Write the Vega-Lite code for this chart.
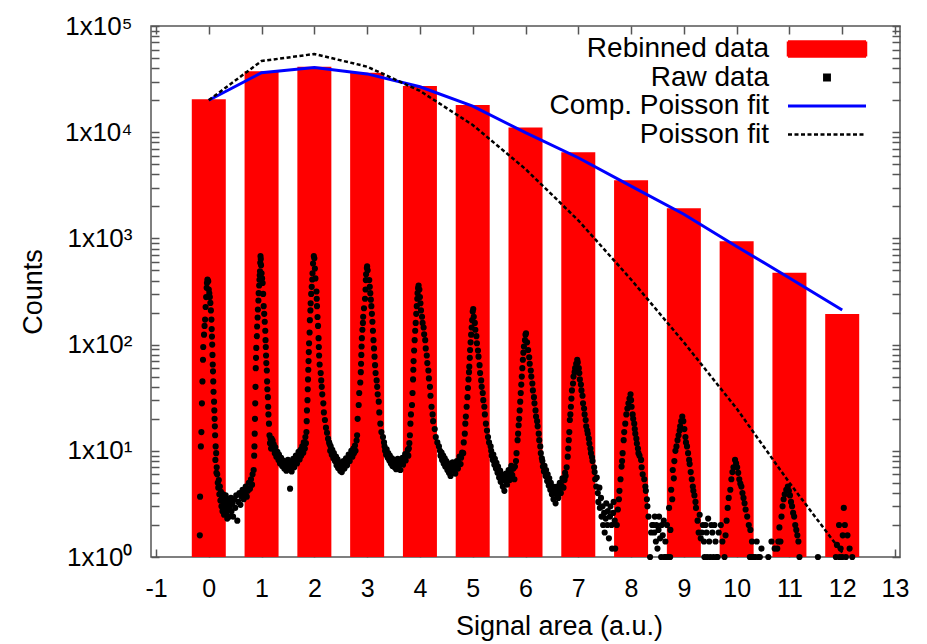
{
  "$schema": "https://vega.github.io/schema/vega-lite/v6.json",
  "width": 749,
  "height": 531,
  "autosize": {"type": "none"},
  "padding": {"left": 151, "top": 26, "right": 27, "bottom": 87},
  "background": "white",
  "config": {
    "view": {"stroke": "#555555", "strokeWidth": 1.5},
    "font": "Liberation Sans",
    "axis": {"domain": false, "grid": false, "tickColor": "#555555", "tickWidth": 1.5, "labelColor": "#000000", "titleColor": "#000000", "labelFont": "Liberation Sans", "titleFont": "Liberation Sans", "titleFontWeight": "normal"}
  },
  "datasets": {
    "bars": [{"x":0,"y":20400},{"x":1,"y":37400},{"x":2,"y":41400},{"x":3,"y":36300},{"x":4,"y":27200},{"x":5,"y":18000},{"x":6,"y":11100},{"x":7,"y":6470},{"x":8,"y":3520},{"x":9,"y":1920},{"x":10,"y":940},{"x":11,"y":475},{"x":12,"y":194}],
    "comp": [{"x":0,"y":20000},{"x":1,"y":36300},{"x":2,"y":40600},{"x":3,"y":35400},{"x":4,"y":26800},{"x":5,"y":17600},{"x":6,"y":9900},{"x":7,"y":5750},{"x":8,"y":3110},{"x":9,"y":1690},{"x":10,"y":840},{"x":11,"y":424},{"x":12,"y":212}],
    "pois": [{"x":0,"y":20000},{"x":1,"y":46800},{"x":2,"y":54500},{"x":3,"y":41400},{"x":4,"y":24500},{"x":5,"y":11700},{"x":6,"y":4500},{"x":7,"y":1480},{"x":8,"y":410},{"x":9,"y":105},{"x":10,"y":25},{"x":11,"y":5},{"x":12,"y":1.1}],
    "raw": [
{"x":-0.17,"y":1.6},{"x":-0.165,"y":3.7},{"x":-0.15,"y":11},{"x":-0.14,"y":15},{"x":-0.13,"y":28},{"x":-0.12,"y":45},{"x":-0.11,"y":72},{"x":-0.105,"y":95},{"x":-0.09,"y":124},{"x":-0.08,"y":150},{"x":-0.07,"y":172},{"x":-0.06,"y":226},{"x":-0.05,"y":280},{"x":-0.04,"y":343},{"x":-0.035,"y":380},{"x":-0.025,"y":410},{"x":-0.02,"y":400},{"x":-0.01,"y":395},{"x":0,"y":330},{"x":0.01,"y":304},{"x":0.02,"y":280},{"x":0.03,"y":247},{"x":0.04,"y":210},{"x":0.05,"y":172},{"x":0.055,"y":140},{"x":0.06,"y":119},{"x":0.065,"y":100},{"x":0.07,"y":80},{"x":0.075,"y":65},{"x":0.08,"y":56},{"x":0.085,"y":45},{"x":0.09,"y":36},{"x":0.1,"y":29},{"x":0.105,"y":24},{"x":0.11,"y":20},{"x":0.115,"y":17},{"x":0.12,"y":14},{"x":0.13,"y":11},{"x":0.125,"y":8.2},{"x":0.14,"y":9.5},{"x":0.145,"y":6.2},{"x":0.15,"y":7},
{"x":0.16,"y":6.0},{"x":0.17,"y":5.0},{"x":0.18,"y":4.5},{"x":0.19,"y":5.3},{"x":0.2,"y":3.9},{"x":0.21,"y":4.6},{"x":0.22,"y":3.4},{"x":0.23,"y":4.1},{"x":0.24,"y":3.0},{"x":0.25,"y":3.6},{"x":0.26,"y":2.7},{"x":0.27,"y":3.9},{"x":0.28,"y":3.2},{"x":0.29,"y":2.5},{"x":0.3,"y":3.4},{"x":0.31,"y":2.9},{"x":0.32,"y":3.8},{"x":0.33,"y":2.6},{"x":0.34,"y":3.1},{"x":0.35,"y":2.3},{"x":0.36,"y":3.5},{"x":0.37,"y":2.8},{"x":0.38,"y":3.3},{"x":0.39,"y":2.4},{"x":0.4,"y":3.0},{"x":0.42,"y":3.6},{"x":0.43,"y":2.7},{"x":0.45,"y":3.2},{"x":0.46,"y":2.4},{"x":0.48,"y":3.5},{"x":0.5,"y":2.9},{"x":0.52,"y":3.8},{"x":0.54,"y":2.2},{"x":0.56,"y":3.3},{"x":0.58,"y":4.0},{"x":0.6,"y":3.1},{"x":0.62,"y":3.7},{"x":0.64,"y":4.3},{"x":0.66,"y":3.5},{"x":0.68,"y":4.0},{"x":0.7,"y":4.6},{"x":0.72,"y":3.7},{"x":0.74,"y":4.2},{"x":0.76,"y":5.0},{"x":0.78,"y":4.4},{"x":0.8,"y":5.4},{"x":0.82,"y":4.8},{"x":0.83,"y":6.0},
{"x":0.85,"y":6.6},{"x":0.86,"y":9},{"x":0.865,"y":11},{"x":0.87,"y":14.5},{"x":0.875,"y":20},{"x":0.88,"y":28},{"x":0.885,"y":40},{"x":0.89,"y":60},{"x":0.895,"y":75},{"x":0.9,"y":93},{"x":0.91,"y":120},{"x":0.915,"y":148},{"x":0.925,"y":180},{"x":0.93,"y":214},{"x":0.94,"y":260},{"x":0.945,"y":305},{"x":0.955,"y":360},{"x":0.96,"y":408},{"x":0.965,"y":450},{"x":0.97,"y":490},{"x":0.975,"y":590},{"x":0.98,"y":680},{"x":0.985,"y":640},
{"x":0.99,"y":560},{"x":1.0,"y":470},{"x":1.01,"y":420},{"x":1.02,"y":380},{"x":1.03,"y":300},{"x":1.04,"y":230},{"x":1.05,"y":195},{"x":1.06,"y":164},{"x":1.07,"y":135},{"x":1.075,"y":110},{"x":1.08,"y":95},{"x":1.085,"y":79},{"x":1.09,"y":67},{"x":1.1,"y":57},{"x":1.105,"y":45},{"x":1.11,"y":38},{"x":1.12,"y":32},{"x":1.125,"y":26},{"x":1.13,"y":22},{"x":1.14,"y":18},{"x":1.15,"y":14},{"x":1.16,"y":11.8},{"x":1.17,"y":13},{"x":1.18,"y":10.5},
{"x":1.19,"y":13},{"x":1.2,"y":11},{"x":1.21,"y":12.5},{"x":1.22,"y":10.5},{"x":1.23,"y":11.5},{"x":1.25,"y":9.5},{"x":1.26,"y":10.8},{"x":1.28,"y":8.8},{"x":1.3,"y":9.8},{"x":1.32,"y":8.2},{"x":1.33,"y":9.2},{"x":1.35,"y":7.6},{"x":1.37,"y":8.6},{"x":1.39,"y":7.2},{"x":1.41,"y":8.1},{"x":1.43,"y":6.8},{"x":1.45,"y":7.8},{"x":1.47,"y":6.5},{"x":1.49,"y":7.4},{"x":1.5,"y":8.2},{"x":1.52,"y":6.9},{"x":1.54,"y":4.4},{"x":1.55,"y":7.7},{"x":1.57,"y":6.4},{"x":1.59,"y":7.3},{"x":1.6,"y":8.4},{"x":1.62,"y":7.0},{"x":1.64,"y":8.0},{"x":1.65,"y":9.0},{"x":1.67,"y":7.6},{"x":1.69,"y":8.7},{"x":1.7,"y":9.8},{"x":1.72,"y":8.3},{"x":1.74,"y":10.2},{"x":1.75,"y":9.0},{"x":1.77,"y":11.0},{"x":1.79,"y":9.6},{"x":1.8,"y":12.0},{"x":1.82,"y":10.5},{"x":1.83,"y":13.5},
{"x":1.84,"y":11.8},{"x":1.85,"y":15},{"x":1.855,"y":19},{"x":1.86,"y":24},{"x":1.87,"y":30},{"x":1.875,"y":38},{"x":1.88,"y":47},{"x":1.885,"y":58},{"x":1.89,"y":70},{"x":1.895,"y":85},{"x":1.9,"y":103},{"x":1.91,"y":130},{"x":1.915,"y":170},{"x":1.925,"y":210},{"x":1.93,"y":245},{"x":1.94,"y":300},{"x":1.95,"y":350},{"x":1.96,"y":410},{"x":1.965,"y":470},{"x":1.975,"y":580},{"x":1.99,"y":680},{"x":2.0,"y":650},
{"x":2.01,"y":520},{"x":2.02,"y":420},{"x":2.04,"y":316},{"x":2.045,"y":270},{"x":2.05,"y":230},{"x":2.06,"y":182},{"x":2.07,"y":150},{"x":2.08,"y":115},{"x":2.085,"y":95},{"x":2.09,"y":79},{"x":2.1,"y":65},{"x":2.12,"y":54},{"x":2.13,"y":46},{"x":2.14,"y":40},{"x":2.15,"y":34},{"x":2.17,"y":28},{"x":2.18,"y":23},{"x":2.2,"y":19.5},{"x":2.22,"y":16.5},{"x":2.24,"y":14.8},{"x":2.26,"y":13},{"x":2.28,"y":12},
{"x":2.29,"y":11.5},{"x":2.3,"y":10},{"x":2.31,"y":11},{"x":2.33,"y":9.2},{"x":2.34,"y":10.2},{"x":2.36,"y":8.5},{"x":2.37,"y":9.5},{"x":2.39,"y":8},{"x":2.41,"y":8.8},{"x":2.42,"y":7.3},{"x":2.44,"y":8.3},{"x":2.45,"y":6.9},{"x":2.47,"y":7.8},{"x":2.49,"y":6.5},{"x":2.5,"y":7.5},{"x":2.52,"y":6.3},{"x":2.54,"y":7.2},{"x":2.55,"y":8.0},{"x":2.57,"y":6.8},{"x":2.59,"y":7.6},{"x":2.6,"y":8.5},{"x":2.62,"y":7.3},{"x":2.64,"y":8.2},{"x":2.65,"y":9.2},{"x":2.67,"y":8.0},{"x":2.69,"y":9.0},{"x":2.7,"y":10},{"x":2.72,"y":8.8},{"x":2.74,"y":10.5},{"x":2.75,"y":9.5},{"x":2.77,"y":11.2},{"x":2.78,"y":10},{"x":2.8,"y":12.5},
{"x":2.81,"y":14},{"x":2.82,"y":20},{"x":2.84,"y":27},{"x":2.85,"y":35},{"x":2.87,"y":44},{"x":2.88,"y":55},{"x":2.885,"y":66},{"x":2.89,"y":80},{"x":2.895,"y":96},{"x":2.9,"y":115},{"x":2.91,"y":138},{"x":2.92,"y":160},{"x":2.925,"y":183},{"x":2.94,"y":220},{"x":2.96,"y":270},{"x":2.97,"y":330},{"x":2.975,"y":405},{"x":2.98,"y":460},{"x":2.995,"y":525},{"x":3.0,"y":545},{"x":3.01,"y":500},
{"x":3.04,"y":405},{"x":3.05,"y":350},{"x":3.06,"y":305},{"x":3.07,"y":265},{"x":3.08,"y":230},{"x":3.09,"y":195},{"x":3.1,"y":164},{"x":3.11,"y":135},{"x":3.12,"y":110},{"x":3.13,"y":92},{"x":3.14,"y":77},{"x":3.15,"y":64},{"x":3.16,"y":54},{"x":3.18,"y":46},{"x":3.19,"y":40},{"x":3.2,"y":34},{"x":3.22,"y":29},{"x":3.23,"y":23},{"x":3.25,"y":18},{"x":3.27,"y":15},{"x":3.3,"y":13.5},{"x":3.32,"y":12},
{"x":3.33,"y":11},{"x":3.34,"y":10},{"x":3.36,"y":9.2},{"x":3.37,"y":10.3},{"x":3.39,"y":8.6},{"x":3.4,"y":9.5},{"x":3.42,"y":8.1},{"x":3.43,"y":9},{"x":3.45,"y":7.6},{"x":3.47,"y":8.5},{"x":3.48,"y":7.2},{"x":3.5,"y":8.2},{"x":3.52,"y":7.0},{"x":3.53,"y":7.9},{"x":3.55,"y":6.7},{"x":3.57,"y":7.6},{"x":3.58,"y":8.4},{"x":3.6,"y":7.1},{"x":3.62,"y":8.0},{"x":3.63,"y":6.6},{"x":3.65,"y":7.7},{"x":3.67,"y":8.6},{"x":3.68,"y":7.4},{"x":3.7,"y":8.4},{"x":3.72,"y":9.3},{"x":3.73,"y":8.1},{"x":3.75,"y":9.2},{"x":3.77,"y":10.2},{"x":3.78,"y":9.0},{"x":3.79,"y":10.5},
{"x":3.8,"y":11.8},{"x":3.81,"y":14},{"x":3.82,"y":18},{"x":3.83,"y":22},{"x":3.85,"y":27},{"x":3.86,"y":35},{"x":3.87,"y":47},{"x":3.875,"y":58},{"x":3.88,"y":70},{"x":3.89,"y":88},{"x":3.9,"y":110},{"x":3.91,"y":135},{"x":3.92,"y":160},{"x":3.93,"y":195},{"x":3.94,"y":230},{"x":3.95,"y":270},{"x":3.955,"y":305},{"x":3.965,"y":340},{"x":3.975,"y":360},{"x":3.99,"y":330},
{"x":4.0,"y":280},{"x":4.01,"y":245},{"x":4.02,"y":210},{"x":4.04,"y":183},{"x":4.05,"y":160},{"x":4.07,"y":145},{"x":4.08,"y":125},{"x":4.1,"y":110},{"x":4.11,"y":92},{"x":4.13,"y":79},{"x":4.14,"y":67},{"x":4.16,"y":57},{"x":4.17,"y":48},{"x":4.19,"y":40},{"x":4.2,"y":33},{"x":4.22,"y":26},{"x":4.24,"y":22},{"x":4.25,"y":19},{"x":4.28,"y":16},{"x":4.3,"y":13.5},{"x":4.33,"y":12},{"x":4.36,"y":11},
{"x":4.38,"y":10},{"x":4.39,"y":9},{"x":4.41,"y":9.6},{"x":4.42,"y":8.2},{"x":4.44,"y":9},{"x":4.45,"y":7.6},{"x":4.47,"y":8.5},{"x":4.48,"y":7.1},{"x":4.5,"y":8},{"x":4.52,"y":6.6},{"x":4.53,"y":7.6},{"x":4.55,"y":6.2},{"x":4.57,"y":7.2},{"x":4.58,"y":5.8},{"x":4.6,"y":6.9},{"x":4.62,"y":7.8},{"x":4.63,"y":6.5},{"x":4.65,"y":7.4},{"x":4.67,"y":6.1},{"x":4.68,"y":7.0},{"x":4.7,"y":8.0},{"x":4.72,"y":6.8},{"x":4.73,"y":7.8},{"x":4.75,"y":8.8},{"x":4.77,"y":7.5},{"x":4.78,"y":8.6},{"x":4.8,"y":9.6},
{"x":4.82,"y":9.5},{"x":4.83,"y":12},{"x":4.85,"y":14.5},{"x":4.86,"y":18},{"x":4.87,"y":21},{"x":4.885,"y":26},{"x":4.9,"y":32},{"x":4.91,"y":39},{"x":4.92,"y":47},{"x":4.93,"y":55},{"x":4.935,"y":62},{"x":4.945,"y":75},{"x":4.95,"y":89},{"x":4.96,"y":105},{"x":4.97,"y":124},{"x":4.98,"y":145},{"x":4.99,"y":170},{"x":5.0,"y":205},{"x":5.01,"y":216},
{"x":5.02,"y":183},{"x":5.04,"y":160},{"x":5.05,"y":138},{"x":5.07,"y":120},{"x":5.08,"y":103},{"x":5.1,"y":88},{"x":5.11,"y":77},{"x":5.13,"y":64},{"x":5.14,"y":54},{"x":5.16,"y":46},{"x":5.17,"y":40},{"x":5.19,"y":35},{"x":5.2,"y":30},{"x":5.22,"y":26},{"x":5.23,"y":22},{"x":5.25,"y":18},{"x":5.27,"y":15.5},{"x":5.29,"y":13.5},{"x":5.31,"y":12},{"x":5.34,"y":11},
{"x":5.35,"y":10},{"x":5.36,"y":9},{"x":5.38,"y":8.2},{"x":5.39,"y":9.2},{"x":5.41,"y":7.4},{"x":5.42,"y":8.4},{"x":5.44,"y":6.8},{"x":5.45,"y":7.7},{"x":5.47,"y":6.2},{"x":5.48,"y":7.1},{"x":5.5,"y":5.6},{"x":5.52,"y":6.5},{"x":5.53,"y":5.1},{"x":5.55,"y":6.0},{"x":5.57,"y":4.6},{"x":5.58,"y":5.6},{"x":5.6,"y":4.2},{"x":5.62,"y":5.2},{"x":5.63,"y":6.1},{"x":5.65,"y":4.8},{"x":5.67,"y":5.7},{"x":5.68,"y":6.6},{"x":5.7,"y":5.3},{"x":5.72,"y":6.2},{"x":5.73,"y":7.2},{"x":5.75,"y":5.9},{"x":5.77,"y":6.8},
{"x":5.79,"y":5.4},{"x":5.8,"y":7.1},{"x":5.82,"y":8},{"x":5.83,"y":9.5},{"x":5.85,"y":12.6},{"x":5.86,"y":14.5},{"x":5.87,"y":17.4},{"x":5.88,"y":20},{"x":5.89,"y":24},{"x":5.9,"y":29},{"x":5.91,"y":35},{"x":5.92,"y":42},{"x":5.93,"y":50},{"x":5.94,"y":60},{"x":5.95,"y":72},{"x":5.96,"y":84},{"x":5.97,"y":96},{"x":5.99,"y":110},{"x":6.0,"y":124},{"x":6.01,"y":128},
{"x":6.03,"y":105},{"x":6.05,"y":89},{"x":6.07,"y":76},{"x":6.08,"y":66},{"x":6.1,"y":57},{"x":6.11,"y":50},{"x":6.13,"y":43},{"x":6.14,"y":37},{"x":6.16,"y":32},{"x":6.17,"y":28},{"x":6.19,"y":24},{"x":6.2,"y":21},{"x":6.22,"y":19},{"x":6.23,"y":17},{"x":6.25,"y":14.5},{"x":6.26,"y":12.6},{"x":6.28,"y":11},{"x":6.29,"y":9.5},{"x":6.31,"y":8.5},
{"x":6.32,"y":8},{"x":6.33,"y":7.1},{"x":6.35,"y":6.4},{"x":6.36,"y":7.2},{"x":6.38,"y":5.8},{"x":6.39,"y":6.6},{"x":6.41,"y":5.2},{"x":6.42,"y":6.0},{"x":6.44,"y":4.7},{"x":6.45,"y":5.5},{"x":6.47,"y":4.3},{"x":6.48,"y":5.0},{"x":6.5,"y":3.9},{"x":6.52,"y":4.6},{"x":6.53,"y":3.5},{"x":6.55,"y":4.2},{"x":6.57,"y":3.2},{"x":6.58,"y":3.9},{"x":6.6,"y":4.6},{"x":6.62,"y":3.6},{"x":6.63,"y":4.3},{"x":6.65,"y":5.0},{"x":6.67,"y":4.0},{"x":6.68,"y":4.7},{"x":6.7,"y":5.5},{"x":6.72,"y":4.5},{"x":6.74,"y":5.3},{"x":6.75,"y":6.2},
{"x":6.76,"y":5.8},{"x":6.78,"y":7},{"x":6.8,"y":8.8},{"x":6.81,"y":10.5},{"x":6.82,"y":12.6},{"x":6.83,"y":15},{"x":6.84,"y":19.5},{"x":6.85,"y":22},{"x":6.86,"y":26},{"x":6.87,"y":31},{"x":6.88,"y":37},{"x":6.9,"y":43},{"x":6.91,"y":50},{"x":6.93,"y":55},{"x":6.94,"y":60},{"x":6.96,"y":66},{"x":6.98,"y":72},{"x":6.99,"y":68},
{"x":7.01,"y":60},{"x":7.02,"y":54},{"x":7.03,"y":47},{"x":7.05,"y":42},{"x":7.06,"y":37},{"x":7.08,"y":33},{"x":7.09,"y":28},{"x":7.11,"y":25},{"x":7.12,"y":22},{"x":7.14,"y":19.5},{"x":7.15,"y":17},{"x":7.17,"y":15.5},{"x":7.18,"y":14.5},{"x":7.2,"y":13},{"x":7.21,"y":11.7},{"x":7.23,"y":10.5},{"x":7.24,"y":9.5},{"x":7.26,"y":8.7},{"x":7.27,"y":8},{"x":7.3,"y":7},
{"x":7.31,"y":6.3},{"x":7.32,"y":5.4},{"x":7.34,"y":4.6},{"x":7.35,"y":5.6},{"x":7.37,"y":4.0},{"x":7.38,"y":3.3},{"x":7.4,"y":4.5},{"x":7.41,"y":2.9},{"x":7.43,"y":3.6},{"x":7.44,"y":2.4},{"x":7.46,"y":3.0},{"x":7.47,"y":2},{"x":7.49,"y":2.6},{"x":7.5,"y":1.7},{"x":7.52,"y":2.3},{"x":7.53,"y":3.2},{"x":7.55,"y":2.0},{"x":7.56,"y":2.7},{"x":7.58,"y":1.5},{"x":7.6,"y":2.4},{"x":7.61,"y":3.0},{"x":7.63,"y":2.0},{"x":7.64,"y":1.2},{"x":7.66,"y":2.6},{"x":7.67,"y":3.3},{"x":7.69,"y":2.2},
{"x":7.7,"y":1.2},{"x":7.73,"y":2},{"x":7.75,"y":2.8},{"x":7.77,"y":3.5},{"x":7.78,"y":4.2},{"x":7.8,"y":5.4},{"x":7.82,"y":7.1},{"x":7.83,"y":8},{"x":7.84,"y":9.5},{"x":7.86,"y":12.6},{"x":7.87,"y":15},{"x":7.89,"y":18},{"x":7.91,"y":22},{"x":7.93,"y":25},{"x":7.95,"y":28},{"x":7.97,"y":31},{"x":7.99,"y":34},
{"x":8.0,"y":30},{"x":8.01,"y":26},{"x":8.03,"y":22},{"x":8.04,"y":20},{"x":8.06,"y":18},{"x":8.07,"y":16},{"x":8.08,"y":14.5},{"x":8.1,"y":13},{"x":8.11,"y":11.7},{"x":8.13,"y":10.5},{"x":8.14,"y":9.5},{"x":8.16,"y":9},{"x":8.19,"y":8.2},{"x":8.2,"y":7},{"x":8.22,"y":6},{"x":8.25,"y":5.4},{"x":8.27,"y":4.6},{"x":8.28,"y":4.2},{"x":8.3,"y":3.5},{"x":8.31,"y":3},{"x":8.33,"y":2.4},{"x":8.36,"y":1},{"x":8.38,"y":1.7},{"x":8.4,"y":2},
{"x":8.42,"y":2},{"x":8.44,"y":1.7},{"x":8.45,"y":2.4},{"x":8.47,"y":1.4},{"x":8.48,"y":2},{"x":8.5,"y":1.2},{"x":8.52,"y":1.8},{"x":8.53,"y":2.4},{"x":8.55,"y":1.5},{"x":8.57,"y":1},{"x":8.58,"y":2},{"x":8.6,"y":1.6},{"x":8.62,"y":2.2},{"x":8.63,"y":1},{"x":8.65,"y":1.4},{"x":8.66,"y":1},{"x":8.68,"y":2},{"x":8.7,"y":1},{"x":8.74,"y":1},
{"x":8.72,"y":2.9},{"x":8.745,"y":1.8},{"x":8.76,"y":4.3},{"x":8.78,"y":3.5},{"x":8.79,"y":6.6},{"x":8.81,"y":5.5},{"x":8.82,"y":8},{"x":8.84,"y":10},{"x":8.86,"y":11},{"x":8.88,"y":12.6},{"x":8.9,"y":14},{"x":8.92,"y":15.5},{"x":8.93,"y":17},{"x":8.95,"y":19},{"x":8.97,"y":21},{"x":8.99,"y":19},
{"x":9.01,"y":16},{"x":9.03,"y":13.5},{"x":9.04,"y":12},{"x":9.06,"y":11},{"x":9.08,"y":9.5},{"x":9.1,"y":8.2},{"x":9.11,"y":7.5},{"x":9.13,"y":6.3},{"x":9.15,"y":5.4},{"x":9.17,"y":4.6},{"x":9.18,"y":4.2},{"x":9.2,"y":3.8},{"x":9.22,"y":3.3},{"x":9.23,"y":2.9},{"x":9.26,"y":2.2},{"x":9.28,"y":1.7},{"x":9.3,"y":2.5},{"x":9.32,"y":1.5},
{"x":9.34,"y":1.7},{"x":9.36,"y":2},{"x":9.38,"y":1.4},{"x":9.39,"y":1},{"x":9.41,"y":2},{"x":9.43,"y":1.7},{"x":9.44,"y":1},{"x":9.46,"y":2.3},{"x":9.48,"y":1.4},{"x":9.5,"y":1},{"x":9.52,"y":2},{"x":9.54,"y":1.7},{"x":9.56,"y":1},{"x":9.58,"y":2},{"x":9.6,"y":1.4},{"x":9.62,"y":1},{"x":9.64,"y":1},{"x":9.66,"y":1.7},{"x":9.7,"y":2},{"x":9.73,"y":1.4},
{"x":9.77,"y":1},{"x":9.79,"y":1.6},{"x":9.81,"y":2.2},{"x":9.83,"y":2.9},{"x":9.85,"y":3.6},{"x":9.88,"y":4.3},{"x":9.9,"y":5.4},{"x":9.92,"y":6.3},{"x":9.94,"y":7},{"x":9.97,"y":8.2},{"x":9.99,"y":7.6},{"x":10.01,"y":7},{"x":10.03,"y":6.2},{"x":10.05,"y":5.4},{"x":10.07,"y":4.9},{"x":10.09,"y":4.6},{"x":10.11,"y":4},{"x":10.13,"y":3.6},{"x":10.15,"y":3.2},{"x":10.17,"y":2.8},{"x":10.2,"y":2.4},{"x":10.23,"y":2},{"x":10.26,"y":1.8},{"x":10.29,"y":1.4},{"x":10.25,"y":1},{"x":10.28,"y":1},{"x":10.32,"y":1},{"x":10.35,"y":1},{"x":10.44,"y":1},{"x":10.6,"y":1},
{"x":10.38,"y":1.4},{"x":10.41,"y":1},{"x":10.47,"y":1.2},{"x":10.66,"y":1.4},{"x":10.72,"y":1.2},
{"x":10.77,"y":1.2},{"x":10.79,"y":1.4},{"x":10.81,"y":1.9},{"x":10.83,"y":1.4},{"x":10.85,"y":2.4},{"x":10.87,"y":3},{"x":10.89,"y":3.5},{"x":10.91,"y":3.9},{"x":10.94,"y":4.3},{"x":10.97,"y":4.6},{"x":10.99,"y":4.2},{"x":11.01,"y":3.8},{"x":11.03,"y":3.3},{"x":11.05,"y":3},{"x":11.07,"y":2.6},{"x":11.09,"y":2.4},{"x":11.11,"y":2},{"x":11.13,"y":1.8},{"x":11.15,"y":1.6},{"x":11.17,"y":1.4},{"x":11.19,"y":1},{"x":11.54,"y":1},
{"x":11.88,"y":1},{"x":11.9,"y":1.3},{"x":11.94,"y":2},{"x":11.95,"y":1},{"x":11.97,"y":1.2},{"x":12.0,"y":1},{"x":12.01,"y":1.6},{"x":12.03,"y":2.9},{"x":12.05,"y":2},{"x":12.07,"y":1},{"x":12.1,"y":1.6},{"x":12.14,"y":1.2},{"x":12.19,"y":1}
    ]
  },
  "resolve": {"axis": {"x": "independent", "y": "independent"}},
  "layer": [
    {
      "data": {"name": "bars"},
      "mark": {"type": "bar", "size": 34, "fill": "#ff0000"},
      "encoding": {
        "x": {"field": "x", "type": "quantitative", "scale": {"domain": [-1, 13], "nice": false, "zero": false},
          "axis": {"orient": "bottom", "values": [-1,0,1,2,3,4,5,6,7,8,9,10,11,12,13], "labelExpr": "'' + datum.value", "tickSize": -8, "labelPadding": 27, "labelFontSize": 25, "labelFlush": false, "title": "Signal area (a.u.)", "titleFontSize": 27, "titlePadding": 12, "titleX": 408, "titleAlign": "center"}},
        "y": {"field": "y", "type": "quantitative", "scale": {"type": "log", "domain": [1, 100000], "nice": false},
          "axis": {"orient": "left", "values": [1,2,3,4,5,6,7,8,9,10,20,30,40,50,60,70,80,90,100,200,300,400,500,600,700,800,900,1000,2000,3000,4000,5000,6000,7000,8000,9000,10000,20000,30000,40000,50000,60000,70000,80000,90000,100000],
            "labelExpr": "abs(log(datum.value)/LN10 - round(log(datum.value)/LN10)) < 0.001 ? '1x10' + ['⁰','¹','²','³','⁴','⁵'][round(log(datum.value)/LN10)] : ''",
            "tickSize": -8, "labelPadding": 27, "labelFontSize": 26, "labelFlush": false, "labelOverlap": false,
            "title": "Counts", "titleFontSize": 27, "titlePadding": 17,
            "encode": {"ticks": {"update": {"x2": {"signal": "abs(log(datum.value)/LN10 - round(log(datum.value)/LN10)) < 0.001 ? 8 : 5"}}}}}},
        "y2": {"datum": 1},
        "color": {"datum": "Rebinned data", "type": "nominal",
          "scale": {"domain": ["Rebinned data", "Raw data", "Comp. Poisson fit", "Poisson fit"], "range": ["#ff0000", "#000000", "#0000ff", "#000000"]},
          "legend": {"orient": "none", "legendX": 662, "legendY": 9, "title": null, "padding": 0, "symbolSize": 400, "labelFont": "Liberation Sans", "labelFontSize": 28, "labelColor": "#000000", "labelAlign": "right", "labelOffset": -72, "labelLimit": 400, "rowPadding": 0.5,
            "encode": {"symbols": {"update": {
              "shape": {"signal": "datum.value === 'Rebinned data' ? 'M-3.9,-0.75H3.9V0.75H-3.9Z' : datum.value === 'Raw data' ? 'M-0.27,-0.27H0.27V0.27H-0.27Z' : 'M-3.9,0H3.9'"},
              "fill": {"signal": "datum.value === 'Rebinned data' ? '#ff0000' : datum.value === 'Raw data' ? '#000000' : 'transparent'"},
              "stroke": {"signal": "datum.value === 'Comp. Poisson fit' ? '#0000ff' : datum.value === 'Poisson fit' ? '#000000' : 'transparent'"},
              "strokeWidth": {"signal": "datum.value === 'Comp. Poisson fit' ? 3 : 2.5"},
              "strokeDash": {"signal": "datum.value === 'Poisson fit' ? [4, 2.5] : [1, 0]"},
              "opacity": {"value": 1}
            }}}}}
      }
    },
    {
      "data": {"name": "raw"},
      "mark": {"type": "point", "shape": "circle", "filled": true, "size": 38, "opacity": 1},
      "encoding": {
        "x": {"field": "x", "type": "quantitative", "scale": {"domain": [-1, 13], "nice": false, "zero": false},
          "axis": {"orient": "top", "values": [-1,0,1,2,3,4,5,6,7,8,9,10,11,12,13], "tickSize": -8, "labels": false, "title": null}},
        "y": {"field": "y", "type": "quantitative", "scale": {"type": "log", "domain": [1, 100000], "nice": false},
          "axis": {"orient": "right", "values": [1,2,3,4,5,6,7,8,9,10,20,30,40,50,60,70,80,90,100,200,300,400,500,600,700,800,900,1000,2000,3000,4000,5000,6000,7000,8000,9000,10000,20000,30000,40000,50000,60000,70000,80000,90000,100000],
            "tickSize": -8, "labels": false, "title": null,
            "encode": {"ticks": {"update": {"x2": {"signal": "abs(log(datum.value)/LN10 - round(log(datum.value)/LN10)) < 0.001 ? -8 : -5"}}}}}},
        "color": {"datum": "Raw data", "type": "nominal"}
      }
    },
    {
      "data": {"name": "comp"},
      "mark": {"type": "line", "strokeWidth": 3},
      "encoding": {
        "x": {"field": "x", "type": "quantitative", "scale": {"domain": [-1, 13], "nice": false, "zero": false}, "axis": null},
        "y": {"field": "y", "type": "quantitative", "scale": {"type": "log", "domain": [1, 100000], "nice": false}, "axis": null},
        "color": {"datum": "Comp. Poisson fit", "type": "nominal"}
      }
    },
    {
      "data": {"name": "pois"},
      "mark": {"type": "line", "strokeWidth": 2.5, "strokeDash": [4, 2.5]},
      "encoding": {
        "x": {"field": "x", "type": "quantitative", "scale": {"domain": [-1, 13], "nice": false, "zero": false}, "axis": null},
        "y": {"field": "y", "type": "quantitative", "scale": {"type": "log", "domain": [1, 100000], "nice": false}, "axis": null},
        "color": {"datum": "Poisson fit", "type": "nominal"}
      }
    }
  ]
}
